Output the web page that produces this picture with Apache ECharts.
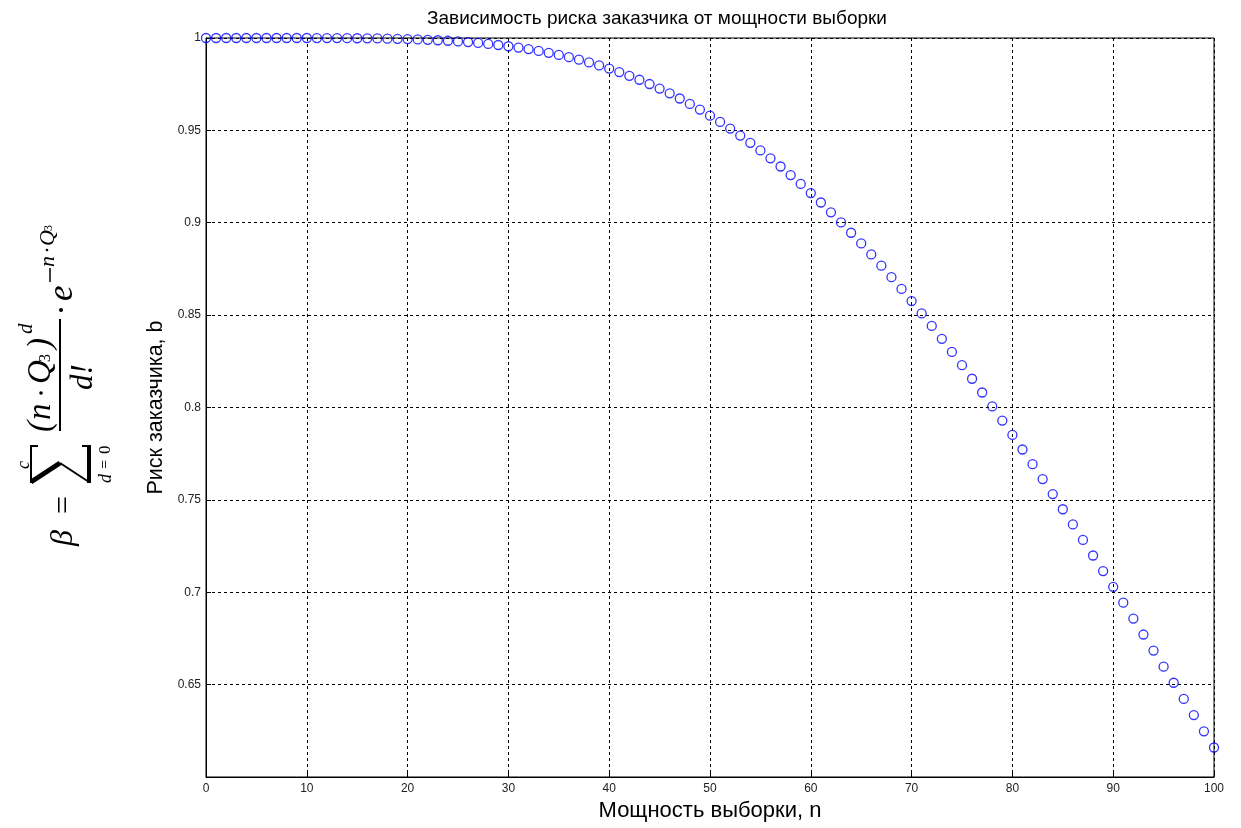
<!DOCTYPE html>
<html>
<head>
<meta charset="utf-8">
<script src="https://cdn.jsdelivr.net/npm/echarts@6/dist/echarts.min.js"></script>
<style>
html,body{margin:0;padding:0;background:#fff;}
#chart{width:1241px;height:828px;}
</style>
</head>
<body>
<div id="chart"></div>
<script>
var sampleSize = [0,1,2,3,4,5,6,7,8,9,10,11,12,13,14,15,16,17,18,19,20,21,22,23,24,25,26,27,28,29,30,31,32,33,34,35,36,37,38,39,40,41,42,43,44,45,46,47,48,49,50,51,52,53,54,55,56,57,58,59,60,61,62,63,64,65,66,67,68,69,70,71,72,73,74,75,76,77,78,79,80,81,82,83,84,85,86,87,88,89,90,91,92,93,94,95,96,97,98,99,100];
var customerRisk = [
1.0000,1.0000,1.0000,1.0000,1.0000,1.0000,1.0000,1.0000,1.0000,1.0000,1.0000,
0.99998,0.99996,0.99994,0.99991,0.99987,0.99982,0.99975,0.99966,0.99954,0.99941,
0.99924,0.99903,0.99879,0.99850,0.99816,0.99777,0.99732,0.99680,0.99621,0.99554,
0.99481,0.99398,0.99303,0.99198,0.99085,0.98963,0.98828,0.98679,0.98515,0.98344,
0.98153,0.97955,0.97739,0.97509,0.97263,0.97003,0.96726,0.96433,0.96124,0.95798,
0.95456,0.95097,0.94720,0.94327,0.93917,0.93489,0.93044,0.92582,0.92104,0.91608,
0.91096,0.90566,0.90020,0.89458,0.88881,0.88288,0.87678,0.87055,0.86416,0.85761,
0.85094,0.84413,0.83716,0.83010,0.82289,0.81557,0.80812,0.80056,0.79291,0.78513,
0.77726,0.76933,0.76125,0.75316,0.74493,0.73669,0.72833,0.71990,0.71147,0.70293,
0.69435,0.68577,0.67712,0.66844,0.65973,0.65101,0.64226,0.63350,0.62473,0.61596
];
var titleText = 'Зависимость риска заказчика от мощности выборки';
var xName = 'Мощность выборки, n';
var yName = 'Риск заказчика, b';

var points = sampleSize.map(function(n, i){ return [n, customerRisk[i]]; });

// formula helpers (local coords: x along reading direction, y downward in text space)
var SH = 4; // vertical correction for text glyphs
function t(x, y, text, size, opts){
  var st = {text:text, x:x, y:y + SH, fontSize:size, fontFamily:'Liberation Serif', fontStyle:'italic', fill:'#000', textAlign:'left', textVerticalAlign:'middle'};
  if (opts) for (var k in opts) st[k] = opts[k];
  return {type:'text', style:st};
}
function ln(x1, y1, x2, y2, w){
  return {type:'line', shape:{x1:x1, y1:y1, x2:x2, y2:y2}, style:{stroke:'#000', lineWidth:w, lineCap:'butt'}};
}
function dot(x, y, r){
  return {type:'circle', shape:{cx:x, cy:y, r:r}, style:{fill:'#000'}};
}

var chart = echarts.init(document.getElementById('chart'), null, {renderer:'canvas'});
chart.setOption({
  animation:false,
  backgroundColor:'#fff',
  title:{
    text:titleText, left:652, top:4, textAlign:'center',
    textStyle:{fontFamily:'Liberation Sans', fontSize:19, fontWeight:'normal', color:'#000'}
  },
  grid:{left:206, right:27, top:38, bottom:51, outerBoundsMode:'none', containLabel:false,
        show:true, borderColor:'#000', borderWidth:1, backgroundColor:'transparent'},
  xAxis:{
    type:'value', min:0, max:100, interval:10,
    name:xName, nameLocation:'middle', nameGap:22,
    nameTextStyle:{fontFamily:'Liberation Sans', fontSize:22, color:'#000', verticalAlign:'top'},
    axisLine:{show:true, lineStyle:{color:'#000', width:1}},
    axisTick:{show:true, inside:true, length:5, lineStyle:{color:'#000'}},
    axisLabel:{fontFamily:'Liberation Sans', fontSize:12, color:'#222', margin:6},
    splitLine:{show:true, lineStyle:{color:'#000', width:1, type:[3,3]}}
  },
  yAxis:{
    type:'value', min:0.6, max:1, interval:0.05,
    name:yName, nameLocation:'middle', nameGap:38, nameRotate:90,
    nameTextStyle:{fontFamily:'Liberation Sans', fontSize:21.5, color:'#000'},
    axisLine:{show:true, lineStyle:{color:'#000', width:1}},
    axisTick:{show:true, inside:true, length:5, lineStyle:{color:'#000'}},
    axisLabel:{fontFamily:'Liberation Sans', fontSize:12, color:'#222', margin:5, showMinLabel:false},
    splitLine:{show:true, lineStyle:{color:'#000', width:1, type:[3,3]}}
  },
  series:[{
    type:'scatter', data:points, symbol:'circle', symbolSize:9, clip:false,
    itemStyle:{color:'rgba(0,0,0,0)', borderColor:'#0000ff', borderWidth:1.3}
  }],
  graphic:[{
    type:'group', x:0, y:555, rotation:Math.PI/2,
    children:[
      t(9, 60, 'β', 32),
      t(41, 61, '=', 32, {fontStyle:'normal'}),
      // summation sign
      ln(72, 31, 110, 31, 2),
      ln(109, 30, 109, 38, 2),
      ln(73, 31, 92, 60, 5),
      ln(92, 60, 73, 89, 2),
      ln(72, 89, 110, 89, 4),
      ln(109, 90, 109, 82, 2),
      t(86, 20, 'c', 18),
      t(72, 102, 'd', 18),
      t(86, 102, '=', 16, {fontStyle:'normal'}),
      t(101, 102, '0', 17, {fontStyle:'normal'}),
      // numerator
      t(123, 37, '(', 33),
      t(135, 37, 'n', 33),
      dot(162, 41, 1.8),
      t(171, 37, 'Q', 33),
      t(193, 42, '3', 16, {fontStyle:'normal'}),
      t(206, 37, ')', 33),
      t(221, 22, 'd', 21),
      ln(124, 60, 236, 60, 2),
      // denominator
      t(178, 80, 'd!', 31, {textAlign:'center'}),
      dot(245, 61, 2),
      t(254, 59, 'e', 35),
      // exponent
      ln(273, 50, 287, 50, 1.5),
      t(288, 44, 'n', 22),
      dot(305, 47, 1.3),
      t(309, 44, 'Q', 22),
      t(324, 45, '3', 12, {fontStyle:'normal'})
    ]
  }]
});
</script>
</body>
</html>
